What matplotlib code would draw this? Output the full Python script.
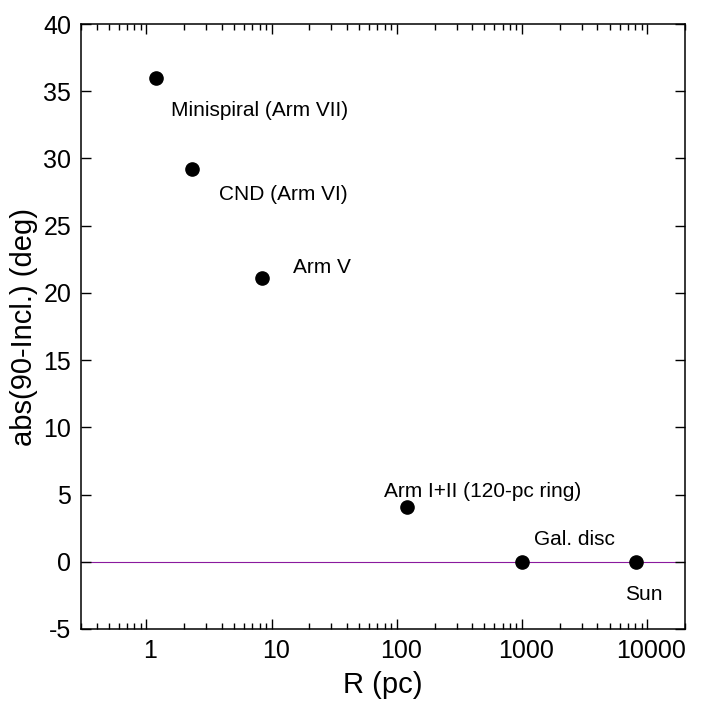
import matplotlib
matplotlib.use('Agg')
import matplotlib.pyplot as plt
import matplotlib.transforms as mtransforms
from matplotlib.ticker import LogLocator, FixedLocator, NullFormatter

plt.rcParams['font.family'] = ['Liberation Sans', 'DejaVu Sans']
plt.rcParams['axes.unicode_minus'] = False

# data
radius_pc = [1.2, 2.3, 8.3, 120, 1000, 8100]
tilt_deg = [36.0, 29.2, 21.1, 4.05, 0.0, 0.0]

label_texts = ['Minispiral (Arm VII)', 'CND (Arm VI)', 'Arm V',
               'Arm I+II (120-pc ring)', 'Gal. disc', 'Sun']
label_x = [1.57, 3.8, 14.8, 79, 1245, 6640]
label_y = [33.6, 27.35, 21.9, 5.25, 1.68, -2.4]

x_ticks = [1, 10, 100, 1000, 10000]
y_ticks = [-5, 0, 5, 10, 15, 20, 25, 30, 35, 40]

fig = plt.figure(figsize=(7.12, 7.02), dpi=100)
ax = fig.add_axes([81 / 712, 1 - 629 / 702, 604 / 712, 605 / 702])

ax.axhline(0, color='#8a1a9e', lw=0.8, zorder=1)
ax.plot(radius_pc, tilt_deg, 'o', color='black', ms=9.5, zorder=3)

for txt, lx, ly in zip(label_texts, label_x, label_y):
    ax.text(lx, ly, txt, fontsize=15, va='center', ha='left')

ax.set_xscale('log')
ax.set_xlim(0.3, 20000)
ax.set_ylim(-5, 40)

ax.xaxis.set_major_locator(FixedLocator(x_ticks))
ax.set_xticklabels([str(t) for t in x_ticks])
ax.xaxis.set_minor_locator(LogLocator(base=10, subs=range(2, 10), numticks=20))
ax.xaxis.set_minor_formatter(NullFormatter())
ax.set_yticks(y_ticks)
ax.set_yticklabels([str(t) for t in y_ticks])

ax.tick_params(which='both', direction='in', top=True, right=True, width=1)
ax.tick_params(which='major', length=7, labelsize=18, pad=7)
ax.tick_params(which='minor', length=4)
for sp in ax.spines.values():
    sp.set_linewidth(1.1)

# gnuplot puts the x tick labels a little right of the ticks
shift = mtransforms.ScaledTranslation(4 / 100, 0, fig.dpi_scale_trans)
for lbl in ax.get_xticklabels():
    lbl.set_transform(lbl.get_transform() + shift)

ax.set_xlabel('R (pc)', fontsize=21, labelpad=6)
ax.set_ylabel('abs(90-Incl.) (deg)', fontsize=21, labelpad=4)

fig.savefig('out.png', dpi=100)
